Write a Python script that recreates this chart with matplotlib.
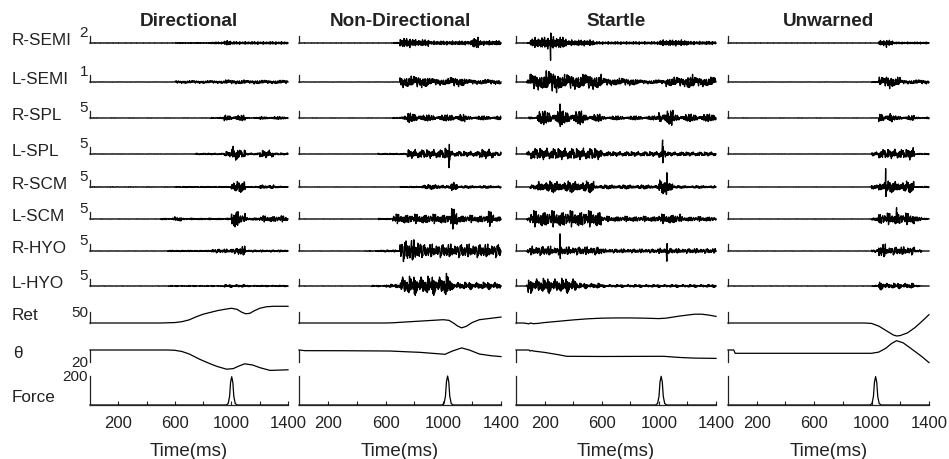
import numpy as np
import matplotlib.pyplot as plt

plt.rcParams['font.family'] = ['Liberation Sans', 'DejaVu Sans']

W, H = 949, 460

conditions = ['Directional', 'Non-Directional', 'Startle', 'Unwarned']
muscles = ['R-SEMI', 'L-SEMI', 'R-SPL', 'L-SPL', 'R-SCM', 'L-SCM', 'R-HYO', 'L-HYO']
emg_scale = [2, 1, 5, 5, 5, 5, 5, 5]
tick_ms = [200, 400, 600, 800, 1000, 1200, 1400]
tick_labels = ['200', '', '600', '', '1000', '', '1400']

# EMG bursts: (start ms, end ms, amplitude relative to the scale bar)
directional_bursts = [
    [(600, 850, .05), (850, 950, .15), (950, 1000, .35), (1000, 1400, .2)],
    [(600, 950, .2), (950, 1100, .3), (1100, 1150, .22), (1150, 1200, .3), (1200, 1400, .25)],
    [(850, 950, .12), (950, 1100, .4), (1100, 1200, .1), (1200, 1400, .2)],
    [(750, 950, .12), (950, 1000, .4), (1000, 1050, 1.1), (1050, 1100, .6), (1100, 1200, .15),
     (1200, 1300, .55), (1300, 1400, .15)],
    [(0, 600, .03), (600, 1000, .08), (1000, 1100, .8), (1100, 1200, .1), (1200, 1300, .3),
     (1300, 1400, .12)],
    [(500, 600, .12), (600, 650, .35), (650, 1000, .12), (1000, 1050, 1.4), (1050, 1100, .8),
     (1100, 1200, .2), (1200, 1400, .45)],
    [(550, 850, .1), (850, 1000, .28), (1000, 1050, .4), (1050, 1100, .7), (1100, 1400, .15)],
    [(550, 950, .08), (950, 1100, .2), (1100, 1400, .1)],
]
nondirectional_bursts = [
    [(650, 700, .1), (700, 800, .7), (800, 900, .5), (900, 1200, .3), (1200, 1250, .9), (1250, 1400, .35)],
    [(700, 900, .85), (900, 1050, .5), (1050, 1150, .7), (1150, 1400, .35)],
    [(650, 700, .1), (700, 750, .3), (750, 850, .7), (850, 1050, .45), (1050, 1150, .55), (1150, 1400, .3)],
    [(550, 750, .1), (750, 1000, .65), (1000, 1050, .9), (1050, 1250, .4), (1250, 1350, .7), (1350, 1400, .3)],
    [(700, 850, .1), (850, 1000, .35), (1000, 1050, .2), (1050, 1100, .7), (1100, 1400, .2)],
    [(550, 650, .1), (650, 1050, .7), (1050, 1100, 1.5), (1100, 1300, .55), (1300, 1350, 1.1), (1350, 1400, .4)],
    [(450, 550, .05), (550, 700, .15), (700, 850, 1.6), (850, 1400, 1.0)],
    [(500, 600, .1), (600, 700, .25), (700, 1000, 1.4), (1000, 1050, 1.8), (1050, 1400, .55)],
]
startle_bursts = [
    [(80, 100, .1), (100, 200, .8), (200, 350, .9), (350, 550, .45), (550, 1000, .2), (1000, 1200, .45),
     (1200, 1400, .25)],
    [(75, 100, .3), (100, 200, 1.2), (200, 300, 1.6), (300, 600, 1.1), (600, 850, .55), (850, 1050, .3),
     (1050, 1200, .7), (1200, 1250, 1.1), (1250, 1400, .7)],
    [(90, 150, .2), (150, 470, 1.0), (470, 600, .55), (600, 1000, .3), (1000, 1100, 1.1), (1100, 1400, .55)],
    [(75, 100, .4), (100, 600, .85), (600, 1000, .35), (1000, 1050, .6), (1050, 1400, .3)],
    [(100, 150, .3), (150, 550, .85), (550, 1000, .3), (1000, 1100, 1.0), (1100, 1400, .2)],
    [(75, 100, .3), (100, 600, 1.2), (600, 1000, .4), (1000, 1150, .7), (1150, 1400, .35)],
    [(75, 100, .4), (100, 250, .7), (250, 600, .6), (600, 1000, .3), (1000, 1100, .4), (1100, 1400, .35)],
    [(75, 100, .5), (100, 425, 1.1), (425, 600, .4), (600, 1400, .2)],
]
unwarned_bursts = [
    [(1050, 1150, .4), (1150, 1400, .15)],
    [(1000, 1050, .1), (1050, 1100, .7), (1100, 1150, 1.0), (1150, 1200, .7), (1200, 1400, .3)],
    [(1050, 1150, .7), (1150, 1250, .3), (1250, 1300, .35), (1300, 1400, .15)],
    [(1000, 1050, .3), (1050, 1250, .7), (1250, 1300, .9), (1300, 1400, .1)],
    [(1000, 1050, .3), (1050, 1300, .85), (1300, 1400, .1)],
    [(1000, 1050, .3), (1050, 1300, .85), (1300, 1350, .4), (1350, 1400, .1)],
    [(1000, 1050, .2), (1050, 1100, 1.0), (1100, 1300, .6), (1300, 1350, .2)],
    [(1000, 1050, .1), (1050, 1100, .6), (1100, 1300, .4), (1300, 1350, .1)],
]
emg_bursts = [directional_bursts, nondirectional_bursts, startle_bursts, unwarned_bursts]

# single large motor-unit spikes: (muscle row, time ms, amplitude)
emg_spikes = [
    [],
    [(3, 1041, -2.0)],
    [(0, 243, -3.1), (2, 308, 2.2), (3, 1026, 2.4), (4, 1055, -1.9), (6, 308, 2.0), (6, 1056, -1.7),
     (7, 86, -1.1)],
    [(0, 1105, -0.9), (4, 1098, 2.4), (5, 1174, 1.4)],
]
spike_shape = [0.35, 1.0, -0.6, 0.2]

# interference pattern shape, one cycle of deflections scaled by the bursts
carrier = [
    0.10, -0.35, 0.55, -0.15, -0.45, 0.25, 0.90, -0.65, -0.30, 0.20,
    0.40, -0.55, 0.12, 0.30, -0.20, -0.06, 0.60, -0.95, 0.75, -0.45,
    0.25, 0.45, -0.15, -0.38, 0.06, 0.35, -0.25, 0.70, -0.48, 0.10,
    -0.30, 0.20, 0.50, -0.40, -0.12, 0.32, -0.80, 1.00, -0.55, -0.08,
    -0.35, 0.14, 0.45, -0.50, 0.04, 0.38, -0.20, -0.62, 0.70, 0.35,
    -0.28, 0.10, -0.40, 0.55, -0.16, 0.26, -0.68, 0.20, 0.42, -0.10,
    -0.50, 0.92, -0.72, 0.30,
]

# head retraction
ret_time = [
    [0, 500, 550, 600, 650, 700, 750, 800, 850, 900, 950, 1000, 1040, 1070, 1100, 1130, 1160, 1200, 1250, 1300, 1400],
    [0, 600, 650, 700, 800, 900, 1000, 1040, 1070, 1100, 1127, 1160, 1200, 1250, 1300, 1350, 1400],
    [0, 50, 75, 90, 100, 121, 150, 200, 300, 400, 500, 600, 700, 800, 900, 1000, 1050, 1100, 1150, 1200,
     1250, 1300, 1350, 1400],
    [0, 950, 1000, 1050, 1100, 1150, 1174, 1200, 1250, 1300, 1350, 1400],
]
ret_value = [
    [0, 0, 1, 2, 6, 14, 28, 40, 48, 56, 62, 67, 62, 50, 42, 44, 55, 67, 74, 76, 76],
    [0, 0, 1, 3, 7, 11, 15, 12, 0, -14, -22, -15, 2, 15, 19, 23, 27],
    [0, 0, -2, -4, 0, -3, -2, 2, 8, 14, 19, 22, 23, 23, 22, 20, 22, 27, 32, 36, 40, 40, 36, 30],
    [0, 0, -2, -14, -34, -54, -59, -57, -45, -22, 7, 38],
]

# head angle
theta_time = [
    [0, 550, 600, 650, 700, 776, 850, 900, 966, 1013, 1050, 1094, 1150, 1202, 1273, 1400],
    [0, 40, 300, 630, 750, 838, 950, 1012, 1060, 1127, 1180, 1250, 1330, 1400],
    [0, 90, 98, 110, 121, 200, 300, 355, 600, 1033, 1150, 1250, 1400],
    [0, 40, 50, 1000, 1050, 1100, 1140, 1174, 1220, 1300, 1350, 1400],
]
theta_value = [
    [0, 0, -0.5, -2.5, -6.5, -15.5, -23, -27.5, -32, -31, -27, -23, -25, -29.5, -34, -33],
    [0, -1.1, -1.2, -1.7, -3, -3.9, -6, -7.2, -2, 3.5, 0, -6.7, -9.5, -11],
    [0, 0, -1.7, -0.8, -1.7, -4, -8, -10.5, -10.8, -10.5, -12.5, -13.5, -14],
    [0, 0, -5.5, -5.5, -3.5, 3, 11, 15.5, 12, -2, -11, -21],
]

# force pulse
force_peak_ms = [1002, 1030, 1016, 1028]
force_peak = [195, 200, 198, 196]
pulse_offset_ms = [-40, -25, -15, -8, 0, 8, 15, 25, 40]
pulse_shape = [0, 0.05, 0.3, 0.8, 1, 0.8, 0.3, 0.05, 0]

time = np.arange(0, 1401, 2)

col_left = [90, 299, 516, 728]
col_width = [198, 202, 200, 201]
emg_base = [44, 83, 119, 155, 188, 220, 252, 287]
ink = '#222222'


def px_axes(fig, left, top, width, height):
    ax = fig.add_axes([left / W, 1 - (top + height) / H, width / W, height / H])
    ax.patch.set_visible(False)
    for side in ['top', 'right', 'bottom']:
        ax.spines[side].set_visible(False)
    ax.spines['left'].set_linewidth(0.9)
    ax.spines['left'].set_color(ink)
    ax.set_xticks([])
    ax.set_yticks([])
    ax.set_xlim(0, 1400)
    return ax


def px_text(fig, x, y, s, **kw):
    fig.text(x / W, 1 - y / H, s, color=ink, **kw)


def emg_trace(bursts, spikes, row, col):
    env = np.full(time.shape, 0.02)
    for start, stop, amp in bursts:
        env[(time >= start) & (time < stop)] = amp
    stride = 2 * row + 1
    idx = (col * 17 + row * 5 + np.arange(time.size) * stride) % len(carrier)
    sig = env * np.asarray(carrier)[idx]
    for r, t0, amp in spikes:
        if r != row:
            continue
        k = int(t0 // 2)
        for j, s in enumerate(spike_shape):
            sig[k - 1 + j] += amp * s
    return sig


fig = plt.figure(figsize=(W / 100, H / 100), dpi=100)

for c, cond in enumerate(conditions):
    left, width = col_left[c], col_width[c]
    px_text(fig, left + width / 2, 26, cond, ha='center', va='baseline',
            fontsize=13.7, fontweight='bold')

    for r in range(len(muscles)):
        ax = px_axes(fig, left, emg_base[r] - 7, width, 7)
        ax.set_ylim(0, emg_scale[r])
        sig = emg_trace(emg_bursts[c][r], emg_spikes[c], r, c) * emg_scale[r]
        ax.plot(time, sig, color='black', lw=0.95, clip_on=False)

    ax = px_axes(fig, left, 313, width, 11)
    ax.set_ylim(0, 50)
    ax.plot(ret_time[c], ret_value[c], color='black', lw=0.9, clip_on=False)

    ax = px_axes(fig, left, 351, width, 12)
    ax.set_ylim(-20, 0)
    ax.plot(theta_time[c], theta_value[c], color='black', lw=0.9, clip_on=False)

    ax = px_axes(fig, left, 377, width, 29)
    ax.set_ylim(0, 200)
    ft = [0] + [force_peak_ms[c] + o for o in pulse_offset_ms] + [1400]
    fv = [0] + [force_peak[c] * s for s in pulse_shape] + [0]
    ax.plot(ft, fv, color='black', lw=0.9, clip_on=False)
    ax.spines['bottom'].set_visible(True)
    ax.spines['bottom'].set_linewidth(0.9)
    ax.spines['bottom'].set_color(ink)
    ax.set_xticks(tick_ms)
    ax.set_xticklabels(tick_labels, fontsize=12)
    ax.tick_params(axis='x', direction='in', length=3, width=0.8, pad=7, colors=ink)

    px_text(fig, left + width / 2, 452, 'Time(ms)', ha='center', va='center', fontsize=13.5)

# row labels and scale values on the first column
for r, name in enumerate(muscles):
    px_text(fig, 12, emg_base[r] + 1, name, ha='left', va='baseline', fontsize=12.3)
    px_text(fig, 88, emg_base[r] - 11, str(emg_scale[r]), ha='right', va='center', fontsize=11)

px_text(fig, 12, 320, 'Ret', ha='left', va='baseline', fontsize=12.3)
px_text(fig, 13, 358, 'θ', ha='left', va='baseline', fontsize=12.3)
px_text(fig, 12, 402, 'Force', ha='left', va='baseline', fontsize=12.3)
px_text(fig, 88, 313, '50', ha='right', va='center', fontsize=11)
px_text(fig, 88, 363, '20', ha='right', va='center', fontsize=11)
px_text(fig, 88, 377, '200', ha='right', va='center', fontsize=11)

fig.savefig('out.png', dpi=100)
